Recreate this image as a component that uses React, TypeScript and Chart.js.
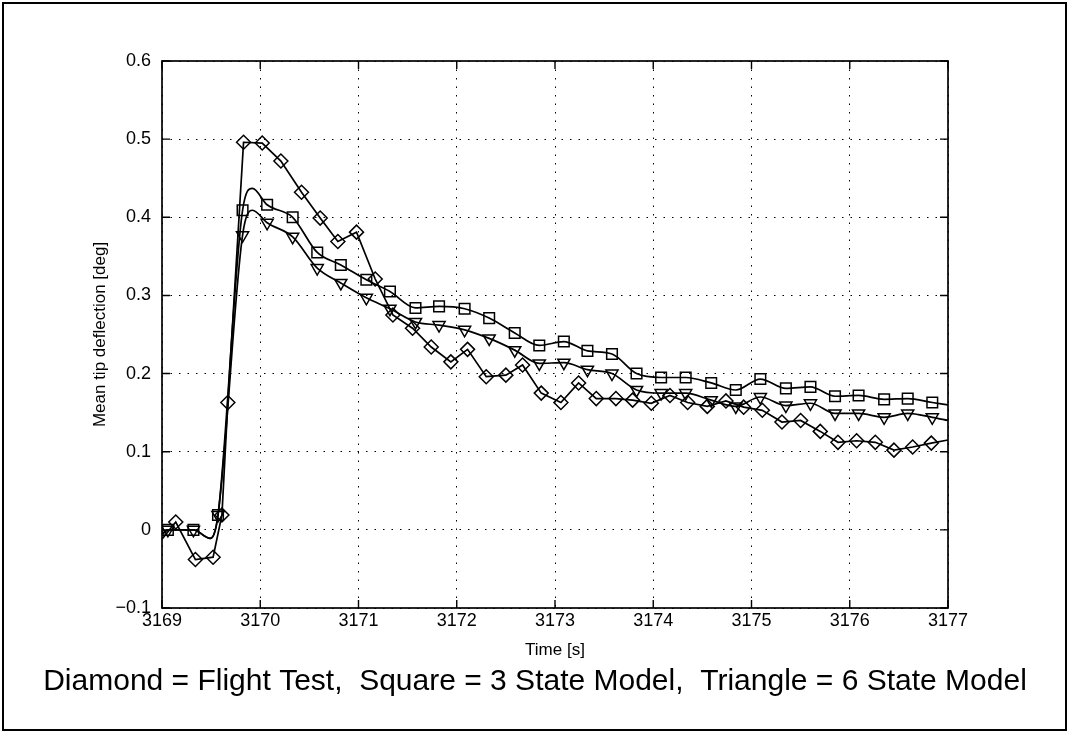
import React, { useEffect, useRef } from 'react';
import { Chart, registerables } from 'chart.js';

Chart.register(...registerables);

const FONT = "'Liberation Sans', Arial, Helvetica, sans-serif";

const X_MIN = 3169;
const X_MAX = 3177;
const Y_MIN = -0.1;
const Y_MAX = 0.6;

const X_TITLE = 'Time [s]';
const Y_TITLE = 'Mean tip deflection [deg]';
const CAPTION = 'Diamond = Flight Test,  Square = 3 State Model,  Triangle = 6 State Model';

// Flight test (diamonds)
const flightTime = [
  3169.0, 3169.14, 3169.34, 3169.52, 3169.61, 3169.67, 3169.83, 3170.02, 3170.21, 3170.42,
  3170.61, 3170.79, 3170.98, 3171.17, 3171.35, 3171.55, 3171.74, 3171.94, 3172.11, 3172.3,
  3172.5, 3172.67, 3172.86, 3173.06, 3173.24, 3173.42, 3173.62, 3173.79, 3173.98, 3174.17,
  3174.35, 3174.55, 3174.74, 3174.92, 3175.11, 3175.31, 3175.5, 3175.7, 3175.88, 3176.07,
  3176.26, 3176.45, 3176.64, 3176.83, 3177.0,
];
const flightValue = [
  -0.012, 0.01, -0.038, -0.035, 0.019, 0.163, 0.496, 0.495, 0.472, 0.432,
  0.399, 0.369, 0.381, 0.321, 0.275, 0.258, 0.234, 0.215, 0.231, 0.196,
  0.198, 0.211, 0.175, 0.163, 0.188, 0.168, 0.168, 0.166, 0.162, 0.172,
  0.163, 0.158, 0.165, 0.157, 0.153, 0.138, 0.14, 0.126, 0.112, 0.114,
  0.112, 0.102, 0.106, 0.111, 0.115,
];
const flightMarker = [
  0, 1, 1, 1, 1, 1, 1, 1, 1, 1,
  1, 1, 1, 1, 1, 1, 1, 1, 1, 1,
  1, 1, 1, 1, 1, 1, 1, 1, 1, 1,
  1, 1, 1, 1, 1, 1, 1, 1, 1, 1,
  1, 1, 1, 1, 0,
];

// Model outputs (shared time base)
const modelTime = [
  3169.0, 3169.06, 3169.32, 3169.49, 3169.57, 3169.82, 3169.92, 3170.07, 3170.33, 3170.58,
  3170.82, 3171.08, 3171.32, 3171.58, 3171.82, 3172.08, 3172.33, 3172.59, 3172.84, 3173.09,
  3173.33, 3173.58, 3173.83, 3174.08, 3174.33, 3174.59, 3174.84, 3175.09, 3175.35, 3175.6,
  3175.85, 3176.09, 3176.35, 3176.59, 3176.84, 3177.0,
];
const modelMarker = [
  0, 1, 1, 0, 1, 1, 0, 1, 1, 1,
  1, 1, 1, 1, 1, 1, 1, 1, 1, 1,
  1, 1, 1, 1, 1, 1, 1, 1, 1, 1,
  1, 1, 1, 1, 1, 0,
];
// 3 state model (squares)
const threeStateValue = [
  -0.006, 0.0, 0.0, -0.011, 0.019, 0.409, 0.437, 0.416, 0.4, 0.355,
  0.339, 0.32, 0.305, 0.284, 0.286, 0.283, 0.271, 0.252, 0.236, 0.241,
  0.229, 0.225, 0.2, 0.195, 0.195, 0.188, 0.179, 0.193, 0.181, 0.183,
  0.171, 0.172, 0.167, 0.168, 0.163, 0.16,
];
// 6 state model (triangles)
const sixStateValue = [
  -0.006, 0.0, 0.0, -0.011, 0.019, 0.377, 0.409, 0.393, 0.375, 0.335,
  0.316, 0.297, 0.283, 0.266, 0.262, 0.256, 0.245, 0.23, 0.213, 0.214,
  0.205, 0.2, 0.179, 0.175, 0.175, 0.166, 0.158, 0.17, 0.159, 0.162,
  0.149, 0.149, 0.144, 0.149, 0.144, 0.14,
];

const toPoints = (xs: number[], ys: number[]) => xs.map((x, i) => ({ x, y: ys[i] }));

const decorPlugin = {
  id: 'decor',
  beforeDraw(chart: any) {
    const { ctx } = chart;
    ctx.save();
    ctx.fillStyle = '#ffffff';
    ctx.fillRect(0, 0, chart.width, chart.height);
    ctx.restore();
  },
  afterDraw(chart: any) {
    const { ctx, chartArea: a, scales } = chart;
    ctx.save();
    ctx.strokeStyle = '#000';
    ctx.lineWidth = 1.7;
    ctx.strokeRect(a.left, a.top, a.right - a.left, a.bottom - a.top);
    const L = 8;
    ctx.lineWidth = 1.4;
    ctx.beginPath();
    scales.x.ticks.forEach((t: any) => {
      const p = scales.x.getPixelForValue(t.value);
      ctx.moveTo(p, a.bottom);
      ctx.lineTo(p, a.bottom - L);
      ctx.moveTo(p, a.top);
      ctx.lineTo(p, a.top + L);
    });
    scales.y.ticks.forEach((t: any) => {
      const p = scales.y.getPixelForValue(t.value);
      ctx.moveTo(a.left, p);
      ctx.lineTo(a.left + L, p);
      ctx.moveTo(a.right, p);
      ctx.lineTo(a.right - L, p);
    });
    ctx.stroke();
    // outer figure frame
    ctx.lineWidth = 2;
    ctx.strokeRect(3, 3, 1063, 727);
    // caption
    ctx.fillStyle = '#000';
    ctx.font = `30px ${FONT}`;
    ctx.textAlign = 'center';
    ctx.textBaseline = 'alphabetic';
    ctx.fillText(CAPTION, 535, 690);
    ctx.restore();
  },
};

export default function App() {
  const ref = useRef<HTMLCanvasElement | null>(null);

  useEffect(() => {
    document.body.style.margin = '0';
    const canvas = ref.current;
    if (!canvas) return;

    const common = {
      borderColor: '#000',
      backgroundColor: 'rgba(0,0,0,0)',
      pointBorderColor: '#000',
      pointBackgroundColor: 'rgba(0,0,0,0)',
      borderWidth: 1.7,
      pointBorderWidth: 1.5,
      fill: false,
    };

    const chart = new Chart(canvas, {
      type: 'line',
      data: {
        datasets: [
          {
            ...common,
            label: 'Flight Test',
            data: toPoints(flightTime, flightValue),
            tension: 0,
            pointStyle: 'rectRot',
            pointRadius: flightMarker.map((m) => (m ? 7 : 0)),
          },
          {
            ...common,
            label: '3 State Model',
            data: toPoints(modelTime, threeStateValue),
            cubicInterpolationMode: 'monotone',
            pointStyle: 'rect',
            pointRadius: modelMarker.map((m) => (m ? 7.5 : 0)),
          },
          {
            ...common,
            label: '6 State Model',
            data: toPoints(modelTime, sixStateValue),
            cubicInterpolationMode: 'monotone',
            pointStyle: 'triangle',
            pointRotation: 180,
            pointRadius: modelMarker.map((m) => (m ? 7 : 0)),
          },
        ],
      } as any,
      options: {
        responsive: false,
        animation: false,
        devicePixelRatio: 1,
        events: [],
        layout: { padding: { left: 0, top: 61, right: 126, bottom: 75.5 } },
        plugins: {
          legend: { display: false },
          tooltip: { enabled: false },
          title: { display: false },
        },
        scales: {
          x: {
            type: 'linear',
            min: X_MIN,
            max: X_MAX,
            afterFit: (s: any) => {
              s.height = 50.5;
            },
            ticks: {
              stepSize: 1,
              color: '#000',
              padding: 2,
              font: { family: FONT, size: 18 },
              callback: (v: any) => String(Math.round(Number(v))),
            },
            grid: { color: '#000', lineWidth: 1, drawTicks: false },
            border: { display: false, dash: [1.5, 7] },
            title: {
              display: true,
              text: X_TITLE,
              color: '#000',
              font: { family: FONT, size: 17, lineHeight: 1 },
              padding: { top: 0, bottom: 0 },
            },
          },
          y: {
            type: 'linear',
            min: Y_MIN,
            max: Y_MAX,
            afterFit: (s: any) => {
              s.width = 162;
            },
            ticks: {
              stepSize: 0.1,
              color: '#000',
              padding: 11,
              font: { family: FONT, size: 18 },
              callback: (v: any) => {
                const n = Number(v);
                if (Math.abs(n) < 1e-9) return '0';
                const s = Math.abs(n).toFixed(1);
                return n < 0 ? '\u2212' + s : s;
              },
            },
            grid: { color: '#000', lineWidth: 1, drawTicks: false },
            border: { display: false, dash: [1.5, 7] },
            title: {
              display: true,
              text: Y_TITLE,
              color: '#000',
              font: { family: FONT, size: 17, lineHeight: 1 },
              padding: { top: 91.5, bottom: 0 },
            },
          },
        },
      } as any,
      plugins: [decorPlugin],
    });

    return () => chart.destroy();
  }, []);

  return (
    <div style={{ width: 1074, height: 734 }}>
      <canvas ref={ref} width={1074} height={734} style={{ display: 'block' }} />
    </div>
  );
}
